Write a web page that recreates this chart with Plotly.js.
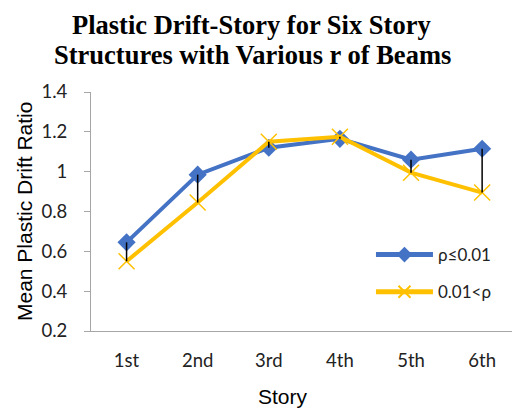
<!DOCTYPE html>
<html>
<head>
<meta charset="utf-8">
<script src="https://cdn.plot.ly/plotly-3.0.1.min.js"></script>
<style>html,body{margin:0;padding:0;background:#fff;}#chart{width:512px;height:411px;}</style>
</head>
<body>
<div id="chart"></div>
<script>
var stories = ["1st", "2nd", "3rd", "4th", "5th", "6th"];
var rhoLow = [0.645, 0.985, 1.12, 1.165, 1.06, 1.115];
var rhoHigh = [0.55, 0.845, 1.15, 1.175, 0.995, 0.895];
var yTicks = [0.2, 0.4, 0.6, 0.8, 1, 1.2, 1.4];
var titleLines = ["Plastic Drift-Story for Six Story", "Structures with Various r of Beams"];

var dropX = [], dropY = [];
for (var i = 0; i < stories.length; i++) {
  dropX.push(stories[i], stories[i], null);
  dropY.push(rhoLow[i], rhoHigh[i], null);
}

var traces = [
  {x: stories, y: rhoLow, name: "ρ≤0.01", mode: "lines+markers", legendgroup: "a",
   line: {color: "#4472C4", width: 4},
   marker: {symbol: "diamond", size: 14, color: "#4472C4"}, cliponaxis: false},
  {x: stories, y: rhoHigh, name: "0.01<ρ", mode: "lines+markers", legendgroup: "b",
   line: {color: "#FFC000", width: 4},
   marker: {symbol: "x-thin-open", size: 16, color: "#FFC000", line: {color: "#FFC000", width: 1.5}}, cliponaxis: false},
  {x: dropX, y: dropY, mode: "lines", line: {color: "#000", width: 1.5},
   showlegend: false, hoverinfo: "skip", cliponaxis: false}
];

var titleFont = {family: "Liberation Serif", size: 26.5, color: "#000", weight: "bold"};
var axisTitleFont = {family: "Liberation Sans", size: 21, color: "#000"};
var tickFont = {family: "Lato", size: 18.5, color: "#222"};

var layout = {
  width: 512, height: 411,
  margin: {l: 91, r: 0, t: 92, b: 80},
  paper_bgcolor: "#fff", plot_bgcolor: "#fff",
  showlegend: true,
  xaxis: {
    type: "category", categoryarray: stories, range: [-0.5, 5.42],
    showline: true, linecolor: "#A6A6A6", linewidth: 1,
    showgrid: false, zeroline: false, ticks: "",
    tickfont: tickFont, ticklabelstandoff: 13
  },
  yaxis: {
    range: [0.2, 1.4], tickvals: yTicks, ticktext: yTicks.map(String),
    showline: true, linecolor: "#A6A6A6", linewidth: 1,
    showgrid: false, zeroline: false,
    ticks: "outside", ticklen: 6, tickcolor: "#A6A6A6",
    tickfont: tickFont, ticklabelstandoff: 13
  },
  annotations: [
    {text: titleLines[0], xref: "paper", yref: "paper", x: (251 - 91) / 421, y: (331 - 25) / 239,
     xanchor: "center", yanchor: "middle", showarrow: false, font: titleFont},
    {text: titleLines[1], xref: "paper", yref: "paper", x: (252 - 91) / 421, y: (331 - 55) / 239,
     xanchor: "center", yanchor: "middle", showarrow: false, font: titleFont},
    {text: "Story", xref: "paper", yref: "paper", x: (283 - 91) / 421, y: (331 - 396) / 239,
     xanchor: "center", yanchor: "middle", showarrow: false, font: axisTitleFont},
    {text: "Mean Plastic Drift Ratio", xref: "paper", yref: "paper", x: (24 - 91) / 421, y: (331 - 212) / 239,
     xanchor: "center", yanchor: "middle", textangle: -90, showarrow: false, font: axisTitleFont}
  ],
  legend: {
    x: 0.665, y: 0.393, xanchor: "left", yanchor: "top",
    bgcolor: "rgba(0,0,0,0)", font: {family: "Lato", size: 17, color: "#222"},
    tracegroupgap: 12, traceorder: "grouped", itemwidth: 57, itemsizing: "constant"
  }
};

Plotly.newPlot("chart", traces, layout, {displayModeBar: false, staticPlot: true});
</script>
</body>
</html>
